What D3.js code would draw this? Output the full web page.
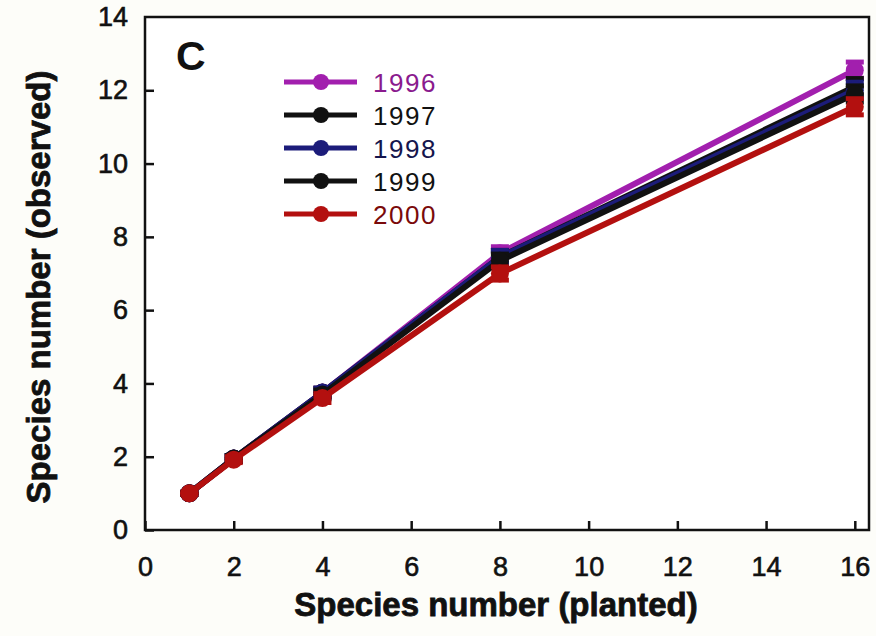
<!DOCTYPE html>
<html>
<head>
<meta charset="utf-8">
<script src="https://cdn.jsdelivr.net/npm/d3@7"></script>
<style>
  body { margin: 0; background: #fdfdf9; }
  svg { display: block; font-family: "Liberation Sans", Arial, sans-serif; }
  .tick text { font-size: 27px; fill: #111; stroke: #111; stroke-width: 0.6; }
  .axis-label { font-size: 33px; font-weight: bold; fill: #111; stroke: #111; stroke-width: 0.8; }
</style>
</head>
<body>
<svg id="chart" width="876" height="636"></svg>
<script>
// planted richness levels (x)
const planted = [1, 2, 4, 8, 16];

// observed richness per year
const years = ['1996', '1997', '1998', '1999', '2000'];
const obs1996 = [1.0, 1.95, 3.75, 7.55, 12.55];
const obs1997 = [1.0, 1.95, 3.75, 7.45, 12.1];
const obs1998 = [1.0, 1.95, 3.75, 7.45, 12.0];
const obs1999 = [1.0, 1.95, 3.7, 7.35, 11.9];
const obs2000 = [1.0, 1.92, 3.6, 7.0, 11.55];
const errors = [0.03, 0.08, 0.12, 0.18, 0.22];

const colors = ['#a21fae', '#111111', '#1c1c7a', '#111111', '#b3100f'];
const textColors = ['#8a1a8e', '#111111', '#15154d', '#111111', '#7a0a0a'];

const xTicks = [0, 2, 4, 6, 8, 10, 12, 14, 16];
const yTicks = [0, 2, 4, 6, 8, 10, 12, 14];

const series = [obs1996, obs1997, obs1998, obs1999, obs2000].map((vals, i) => ({
    year: years[i],
    color: colors[i],
    textColor: textColors[i],
    points: planted.map((p, j) => ({x: p, y: vals[j], e: errors[j]}))
}));

const svg = d3.select('#chart');
const plot = {left: 145, right: 869, top: 17, bottom: 530};

const x = d3.scaleLinear().domain([0, 16.32]).range([plot.left, plot.right]);
const y = d3.scaleLinear().domain([0, 14]).range([plot.bottom, plot.top]);

// frame
svg.append('rect')
    .attr('x', plot.left).attr('y', plot.top)
    .attr('width', plot.right - plot.left).attr('height', plot.bottom - plot.top)
    .attr('fill', '#ffffff').attr('stroke', '#111').attr('stroke-width', 2.5);

// axes with inward ticks
const xAxis = svg.append('g')
    .attr('transform', `translate(0,${plot.bottom})`)
    .call(d3.axisBottom(x).tickValues(xTicks).tickSizeInner(-9).tickSizeOuter(0).tickPadding(27));
const yAxis = svg.append('g')
    .attr('transform', `translate(${plot.left},0)`)
    .call(d3.axisLeft(y).tickValues(yTicks).tickSizeInner(-9).tickSizeOuter(0).tickPadding(17));

[xAxis, yAxis].forEach(g => {
    g.select('.domain').remove();
    g.selectAll('.tick line').attr('stroke', '#111').attr('stroke-width', 2.5);
});
xAxis.selectAll('.tick text').attr('dy', '0.71em');
yAxis.select('.tick:last-of-type line').remove();

// axis titles
svg.append('text')
    .attr('class', 'axis-label')
    .attr('x', 496).attr('y', 616)
    .attr('text-anchor', 'middle')
    .text('Species number (planted)');
svg.append('text')
    .attr('class', 'axis-label')
    .attr('transform', 'translate(50,287) rotate(-90)')
    .attr('text-anchor', 'middle')
    .text('Species number (observed)');

// panel letter
svg.append('text')
    .attr('x', 176).attr('y', 70)
    .attr('font-size', 41).attr('font-weight', 'bold').attr('fill', '#111')
    .text('C');

// series
const line = d3.line().x(d => x(d.x)).y(d => y(d.y));
const seriesGroup = svg.append('g');

series.forEach(s => {
    const g = seriesGroup.append('g');
    g.append('path')
        .datum(s.points)
        .attr('d', line)
        .attr('fill', 'none')
        .attr('stroke', s.color)
        .attr('stroke-width', 6)
        .attr('stroke-linejoin', 'round');

    // error bars
    const eb = g.selectAll('.err').data(s.points).enter().append('g');
    eb.append('line')
        .attr('x1', d => x(d.x)).attr('x2', d => x(d.x))
        .attr('y1', d => y(d.y + d.e)).attr('y2', d => y(d.y - d.e))
        .attr('stroke', s.color).attr('stroke-width', 3);
    [1, -1].forEach(sign => {
        eb.append('line')
            .attr('x1', d => x(d.x) - 9).attr('x2', d => x(d.x) + 9)
            .attr('y1', d => y(d.y + sign * d.e)).attr('y2', d => y(d.y + sign * d.e))
            .attr('stroke', s.color).attr('stroke-width', 5);
    });

    g.selectAll('circle').data(s.points).enter().append('circle')
        .attr('cx', d => x(d.x)).attr('cy', d => y(d.y))
        .attr('r', 9)
        .attr('fill', s.color);
});

// legend
const legend = svg.append('g');
series.forEach((s, i) => {
    const ly = 82 + i * 33;
    legend.append('line')
        .attr('x1', 284).attr('x2', 357).attr('y1', ly).attr('y2', ly)
        .attr('stroke', s.color).attr('stroke-width', 5);
    legend.append('circle')
        .attr('cx', 321).attr('cy', ly).attr('r', 8)
        .attr('fill', s.color);
    legend.append('text')
        .attr('x', 373).attr('y', ly + 10)
        .attr('font-size', 26).attr('letter-spacing', 1.5)
        .attr('fill', s.textColor)
        .text(s.year);
});
</script>
</body>
</html>
